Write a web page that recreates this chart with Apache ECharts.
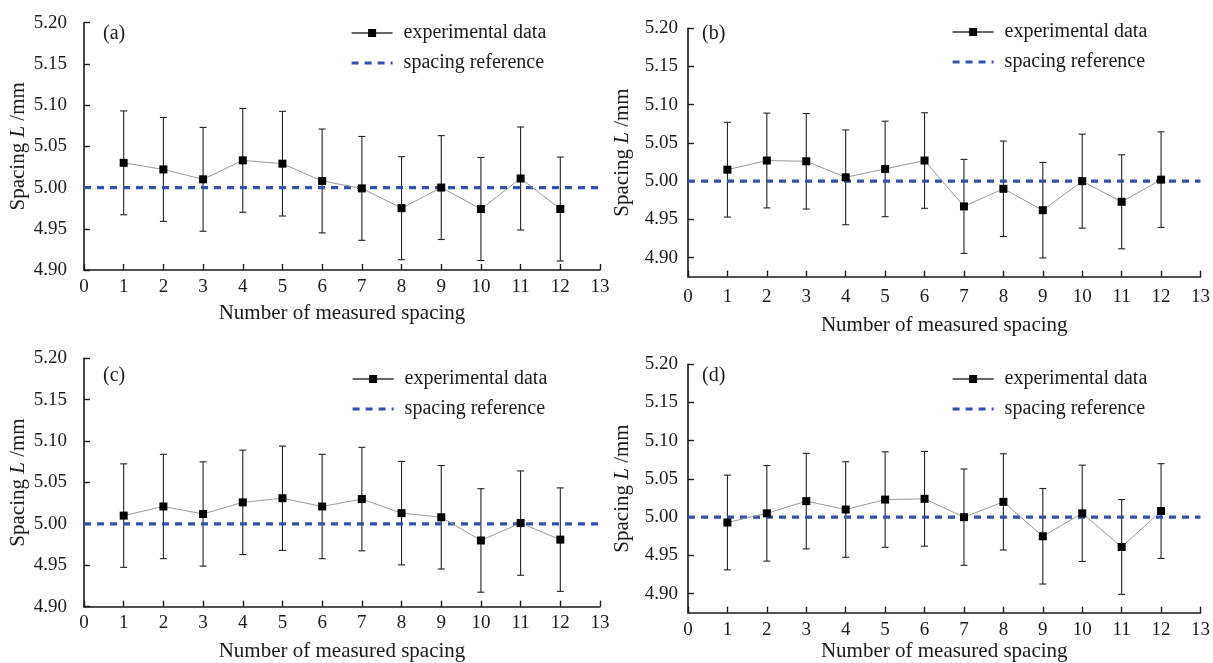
<!DOCTYPE html>
<html>
<head>
<meta charset="utf-8">
<script src="https://cdn.jsdelivr.net/npm/echarts@6/dist/echarts.min.js"></script>
<style>
  html, body { margin: 0; padding: 0; background: #fff; }
  #chart { width: 1213px; height: 663px; }
</style>
</head>
<body>
<div id="chart"></div>
<script>
// Measured spacing L for each of the 12 gaps, four measurement runs (a)-(d)
const measurementNo = [1, 2, 3, 4, 5, 6, 7, 8, 9, 10, 11, 12];

const meanA = [5.030, 5.022, 5.010, 5.033, 5.029, 5.008, 4.999, 4.975, 5.000, 4.974, 5.011, 4.974];
const errA  = [0.063, 0.063, 0.063, 0.063, 0.0635, 0.063, 0.063, 0.0625, 0.063, 0.0625, 0.0625, 0.063];

const meanB = [5.015, 5.027, 5.026, 5.005, 5.016, 5.027, 4.967, 4.990, 4.962, 5.000, 4.973, 5.002];
const errB  = [0.062, 0.062, 0.0625, 0.062, 0.0625, 0.0625, 0.0615, 0.0625, 0.0625, 0.0615, 0.0615, 0.0625];

const meanC = [5.010, 5.021, 5.012, 5.026, 5.031, 5.021, 5.030, 5.013, 5.008, 4.980, 5.001, 4.981];
const errC  = [0.0625, 0.063, 0.063, 0.063, 0.063, 0.063, 0.0625, 0.0625, 0.0625, 0.0625, 0.063, 0.0625];

const meanD = [4.993, 5.005, 5.021, 5.010, 5.023, 5.024, 5.000, 5.020, 4.975, 5.005, 4.961, 5.008];
const errD  = [0.062, 0.0625, 0.0625, 0.0625, 0.0625, 0.062, 0.063, 0.063, 0.0625, 0.063, 0.062, 0.062];

const referenceSpacing = 5.00;
const xRange = [0, 13];
const yTickValues = [4.90, 4.95, 5.00, 5.05, 5.10, 5.15, 5.20];
const panelLetters = ['(a)', '(b)', '(c)', '(d)'];

const FONT = 'Liberation Serif, Times New Roman, serif';
const INK = '#1a1a1a';
const REF_BLUE = '#3450ad';
const REF_DASH = [7, 6];

// Layout of the four panels (plot area boxes in pixels)
const panels = [
  { mean: meanA, err: errA, grid: { left: 84,  top: 22.7,  width: 516, height: 247.3 }, yMin: 4.90,  labelMargin: 17, xLabelMargin: 8,  xNameGap: 33, legend: { left: 350, top: 23 },  tag: { x: 103, y: 35 } },
  { mean: meanB, err: errB, grid: { left: 688, top: 28.3,  width: 515, height: 248.4 }, yMin: 4.875, labelMargin: 10, xLabelMargin: 11, xNameGap: 38, legend: { left: 951, top: 22 },  tag: { x: 702, y: 35 } },
  { mean: meanC, err: errC, grid: { left: 84,  top: 358.3, width: 516, height: 248.4 }, yMin: 4.90,  labelMargin: 17, xLabelMargin: 7,  xNameGap: 34, legend: { left: 351, top: 369 }, tag: { x: 103, y: 377 } },
  { mean: meanD, err: errD, grid: { left: 688, top: 364.3, width: 515, height: 248.4 }, yMin: 4.875, labelMargin: 10, xLabelMargin: 8,  xNameGap: 28, legend: { left: 951, top: 369 }, tag: { x: 702, y: 377 } }
];

// Vertical error bar with short horizontal caps
function errorBarItem(params, api) {
  const x = api.value(0);
  const hi = api.coord([x, api.value(2)]);
  const lo = api.coord([x, api.value(1)]);
  const cap = 3.5;
  const style = { stroke: '#222', lineWidth: 1.1 };
  return {
    type: 'group',
    children: [
      { type: 'line', shape: { x1: hi[0], y1: hi[1], x2: lo[0], y2: lo[1] }, style: style },
      { type: 'line', shape: { x1: hi[0] - cap, y1: hi[1], x2: hi[0] + cap, y2: hi[1] }, style: style },
      { type: 'line', shape: { x1: lo[0] - cap, y1: lo[1], x2: lo[0] + cap, y2: lo[1] }, style: style }
    ]
  };
}

const grids = [], xAxes = [], yAxes = [], series = [], legends = [], graphics = [];

panels.forEach(function (p, i) {
  grids.push(Object.assign({ containLabel: false }, p.grid));

  xAxes.push({
    gridIndex: i,
    type: 'value',
    min: xRange[0],
    max: xRange[1],
    interval: 1,
    name: 'Number of measured spacing',
    nameLocation: 'middle',
    nameGap: p.xNameGap,
    nameTextStyle: { fontFamily: FONT, fontSize: 21, color: INK },
    axisLine: { show: true, onZero: false, lineStyle: { color: INK, width: 1.6 } },
    axisTick: { show: true, inside: true, length: 6, lineStyle: { color: INK, width: 1.4 } },
    axisLabel: { fontFamily: FONT, fontSize: 19, color: INK, margin: p.xLabelMargin },
    splitLine: { show: false }
  });

  const yAxis = {
    gridIndex: i,
    type: 'value',
    min: p.yMin,
    max: 5.20,
    name: 'Spacing {i|L} /mm',
    nameLocation: 'middle',
    nameRotate: 90,
    nameGap: 55,
    nameTextStyle: {
      fontFamily: FONT, fontSize: 21, color: INK,
      rich: { i: { fontFamily: FONT, fontSize: 21, fontStyle: 'italic', color: INK } }
    },
    axisLine: { show: true, onZero: false, lineStyle: { color: INK, width: 1.6 } },
    axisTick: { show: true, inside: true, length: 6, lineStyle: { color: INK, width: 1.4 } },
    axisLabel: {
      fontFamily: FONT, fontSize: 19, color: INK, margin: p.labelMargin,
      formatter: function (v) { return v.toFixed(2); }
    },
    splitLine: { show: false }
  };
  if (p.yMin === 4.90) {
    yAxis.interval = 0.05;
  } else {
    yAxis.axisTick.customValues = yTickValues;
    yAxis.axisLabel.customValues = yTickValues;
  }
  yAxes.push(yAxis);

  // error bars
  series.push({
    type: 'custom',
    xAxisIndex: i,
    yAxisIndex: i,
    renderItem: errorBarItem,
    data: measurementNo.map(function (n, k) { return [n, p.mean[k] - p.err[k], p.mean[k] + p.err[k]]; }),
    z: 2,
    silent: true
  });

  // reference spacing line
  series.push({
    name: 'spacing reference',
    type: 'line',
    xAxisIndex: i,
    yAxisIndex: i,
    data: [[xRange[0], referenceSpacing], [xRange[1], referenceSpacing]],
    symbol: 'none',
    color: REF_BLUE,
    lineStyle: { color: REF_BLUE, width: 3.2, type: REF_DASH },
    z: 3,
    silent: true
  });

  // measured spacing
  series.push({
    name: 'experimental data',
    type: 'line',
    xAxisIndex: i,
    yAxisIndex: i,
    data: measurementNo.map(function (n, k) { return [n, p.mean[k]]; }),
    symbol: 'rect',
    symbolSize: 8,
    color: '#000',
    itemStyle: { color: '#000' },
    lineStyle: { color: '#9a9a9a', width: 1 },
    z: 4,
    silent: true
  });

  legends.push({
    orient: 'vertical',
    left: p.legend.left,
    top: p.legend.top,
    padding: 0,
    itemWidth: 41,
    itemHeight: 10,
    itemGap: 10,
    selectedMode: false,
    textStyle: { fontFamily: FONT, fontSize: 20, color: INK, padding: [0, 0, 0, 6] },
    data: [
      { name: 'experimental data', lineStyle: { color: '#333', width: 1.5 } },
      {
        name: 'spacing reference',
        itemStyle: { color: 'rgba(0,0,0,0)', borderWidth: 0, opacity: 0 },
        lineStyle: { color: REF_BLUE, width: 3.2, type: REF_DASH }
      }
    ]
  });

  graphics.push({
    type: 'text',
    left: p.tag.x,
    top: p.tag.y - 11,
    style: { text: panelLetters[i], fontFamily: FONT, fontSize: 20, fill: INK }
  });
});

const chart = echarts.init(document.getElementById('chart'), null, { renderer: 'canvas' });
chart.setOption({
  backgroundColor: '#fff',
  animation: false,
  grid: grids,
  xAxis: xAxes,
  yAxis: yAxes,
  legend: legends,
  series: series,
  graphic: graphics
});
</script>
</body>
</html>
